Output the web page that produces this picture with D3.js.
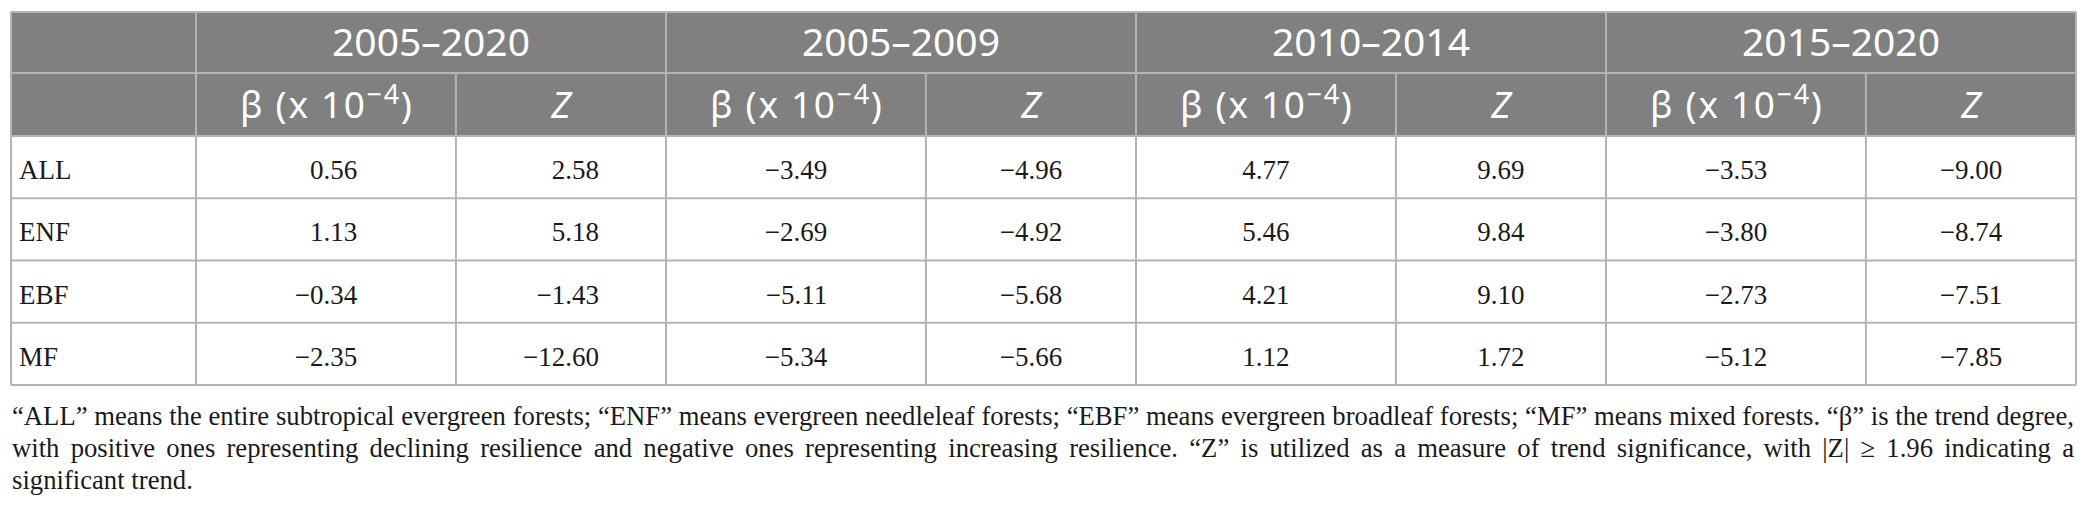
<!DOCTYPE html>
<html>
<head>
<meta charset="utf-8">
<script src="https://cdn.jsdelivr.net/npm/d3@7"></script>
<style>
  body { margin: 0; background: #fff; }
  svg { display: block; }
</style>
</head>
<body>
<div id="chart"></div>
<script>
// table values
const periods = ["2005–2020", "2005–2009", "2010–2014", "2015–2020"];
const forestTypes = ["ALL", "ENF", "EBF", "MF"];
const measures = ["beta", "Z"];

// one inner array per period, in the order of forestTypes
const betaValues = [
    [0.56, 1.13, -0.34, -2.35],
    [-3.49, -2.69, -5.11, -5.34],
    [4.77, 5.46, 4.21, 1.12],
    [-3.53, -3.80, -2.73, -5.12]
];
const zValues = [
    [2.58, 5.18, -1.43, -12.60],
    [-4.96, -4.92, -5.68, -5.66],
    [9.69, 9.84, 9.10, 1.72],
    [-9.00, -8.74, -7.51, -7.85]
];

const footnoteLines = [
    "\u201CALL\u201D means the entire subtropical evergreen forests; \u201CENF\u201D means evergreen needleleaf forests; \u201CEBF\u201D means evergreen broadleaf forests; \u201CMF\u201D means mixed forests. \u201C\u03B2\u201D is the trend degree,",
    "with positive ones representing declining resilience and negative ones representing increasing resilience. \u201CZ\u201D is utilized as a measure of trend significance, with |Z| \u2265 1.96 indicating a",
    "significant trend."
];

const width = 2086, height = 520;
const tLeft = 11, tRight = 2076, labelRight = 196;
const tTop = 12, head1 = 73, head2 = 136, tBottom = 385;
const lineColor = "#b4b4b4";
const headFill = "#808080";
const serif = "'Liberation Serif', 'Times New Roman', serif";
const sans = "'Noto Sans', 'Open Sans', sans-serif";

const svg = d3.select("#chart")
    .append("svg")
    .attr("width", width)
    .attr("height", height);

// Scales: period groups across, forest types down
const xGroup = d3.scaleBand()
    .domain(periods)
    .range([labelRight, tRight]);

// split of each group into the beta and Z sub columns
const xSub = d3.scaleOrdinal()
    .domain(measures)
    .range([0, 0.553]);

const subLeft = (p, m) => xGroup(p) + xSub(m) * xGroup.bandwidth();
const subRight = (p, m) => m === "beta" ? subLeft(p, "Z") : xGroup(p) + xGroup.bandwidth();

const yRow = d3.scaleBand()
    .domain(forestTypes)
    .range([head2, tBottom]);

// Header background
svg.append("rect")
    .attr("x", tLeft)
    .attr("y", tTop)
    .attr("width", tRight - tLeft)
    .attr("height", head2 - tTop)
    .attr("fill", headFill);

// Grid lines
const hLines = [tTop, head1, head2].concat(forestTypes.map(f => yRow(f) + yRow.bandwidth()));
svg.append("g")
    .selectAll("line")
    .data(hLines)
    .join("line")
    .attr("x1", tLeft)
    .attr("x2", tRight)
    .attr("y1", d => d)
    .attr("y2", d => d)
    .attr("stroke", lineColor)
    .attr("stroke-width", 2);

const fullV = [tLeft, labelRight].concat(periods.map(p => xGroup(p) + xGroup.bandwidth()));
svg.append("g")
    .selectAll("line")
    .data(fullV)
    .join("line")
    .attr("x1", d => d)
    .attr("x2", d => d)
    .attr("y1", tTop)
    .attr("y2", tBottom)
    .attr("stroke", lineColor)
    .attr("stroke-width", 2);

svg.append("g")
    .selectAll("line")
    .data(periods)
    .join("line")
    .attr("x1", p => subLeft(p, "Z"))
    .attr("x2", p => subLeft(p, "Z"))
    .attr("y1", head1)
    .attr("y2", tBottom)
    .attr("stroke", lineColor)
    .attr("stroke-width", 2);

// Header row 1: periods
svg.append("g")
    .selectAll("text")
    .data(periods)
    .join("text")
    .attr("x", p => xGroup(p) + xGroup.bandwidth() / 2)
    .attr("y", (tTop + head1) / 2 + 13)
    .attr("text-anchor", "middle")
    .attr("fill", "#fff")
    .style("font-family", sans)
    .style("font-size", "39px")
    .text(p => p);

// Header row 2: beta (x 10^-4) and Z
const subHeads = periods.flatMap(p => measures.map(m => ({ p, m })));
const subText = svg.append("g")
    .selectAll("text")
    .data(subHeads)
    .join("text")
    .attr("x", d => (subLeft(d.p, d.m) + subRight(d.p, d.m)) / 2)
    .attr("y", (head1 + head2) / 2 + 13)
    .attr("text-anchor", "middle")
    .attr("fill", "#fff")
    .style("font-family", sans)
    .style("font-size", "37px");

subText.filter(d => d.m === "Z")
    .style("font-style", "italic")
    .text("Z");

subText.filter(d => d.m === "beta")
    .attr("textLength", 172)
    .attr("lengthAdjust", "spacing")
    .each(function() {
        const t = d3.select(this);
        t.append("tspan").text("\u03B2 (x 10");
        t.append("tspan").attr("dy", -14).style("font-size", "27px").text("\u22124");
        t.append("tspan").attr("dy", 14).text(")");
    });

// Row labels
svg.append("g")
    .selectAll("text")
    .data(forestTypes)
    .join("text")
    .attr("x", tLeft + 8)
    .attr("y", f => yRow(f) + yRow.bandwidth() / 2 + 12)
    .attr("fill", "#1a1a1a")
    .style("font-family", serif)
    .style("font-size", "27px")
    .text(f => f);

// Values, aligned on the right so the widest one sits centred
const fmt = d3.format(".2f");
const cells = [];
periods.forEach((p, i) => {
    measures.forEach(m => {
        const vals = m === "beta" ? betaValues[i] : zValues[i];
        vals.forEach((v, j) => cells.push({ p, m, f: forestTypes[j], v }));
    });
});

const cellText = svg.append("g")
    .selectAll("text")
    .data(cells)
    .join("text")
    .attr("y", d => yRow(d.f) + yRow.bandwidth() / 2 + 12)
    .attr("text-anchor", "end")
    .attr("fill", "#1a1a1a")
    .style("font-family", serif)
    .style("font-size", "27px")
    .text(d => fmt(d.v));

const maxW = {};
cellText.each(function(d) {
    const key = d.p + d.m;
    maxW[key] = Math.max(maxW[key] || 0, this.getComputedTextLength());
});
cellText.attr("x", d => (subLeft(d.p, d.m) + subRight(d.p, d.m)) / 2 + maxW[d.p + d.m] / 2);

// Footnote, justified between the table edges
const noteLeft = 12, noteRight = 2074, noteTarget = noteRight - noteLeft;
const noteY = d3.scaleLinear().domain([0, 1]).range([425, 457]);
const noteSize = 27, minGap = noteSize * 0.25;

const noteGroups = svg.append("g")
    .selectAll("g")
    .data(footnoteLines)
    .join("g");

const lineInfo = [];
noteGroups.each(function(line, i) {
    const words = line.split(" ");
    const ws = [];
    d3.select(this).selectAll("text")
        .data(words)
        .join("text")
        .attr("fill", "#1a1a1a")
        .style("font-family", serif)
        .style("font-size", noteSize + "px")
        .text(w => w)
        .each(function() { ws.push(this.getComputedTextLength()); });
    lineInfo.push({ ws, sum: d3.sum(ws) });
});

// same horizontal squeeze for all lines if the serif is wider than the original
const k = d3.min(lineInfo.slice(0, 2), d => Math.min(1, noteTarget / (d.sum + minGap * (d.ws.length - 1))));

noteGroups.each(function(line, i) {
    const info = lineInfo[i];
    const last = i === footnoteLines.length - 1;
    const gap = last ? minGap : (noteTarget / k - info.sum) / (info.ws.length - 1);
    let x = 0;
    const xs = info.ws.map(w => { const x0 = x; x += w + gap; return x0; });
    d3.select(this)
        .attr("transform", `translate(${noteLeft}, ${noteY(i)}) scale(${k}, 1)`)
        .selectAll("text")
        .attr("x", (d, j) => xs[j]);
});
</script>
</body>
</html>
